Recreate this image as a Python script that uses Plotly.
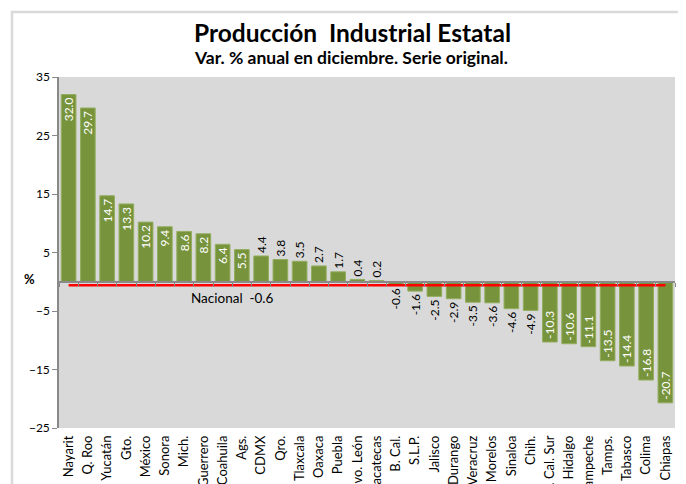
import plotly.graph_objects as go

# ---- data ----
states = ["Nayarit", "Q. Roo", "Yucatán", "Gto.", "México", "Sonora", "Mich.",
          "Guerrero", "Coahuila", "Ags.", "CDMX", "Qro.", "Tlaxcala", "Oaxaca",
          "Puebla", "Nvo. León", "Zacatecas", "B. Cal.", "S.L.P.", "Jalisco",
          "Durango", "Veracruz", "Morelos", "Sinaloa", "Chih.", "B. Cal. Sur",
          "Hidalgo", "Campeche", "Tamps.", "Tabasco", "Colima", "Chiapas"]
values = [32.0, 29.7, 14.7, 13.3, 10.2, 9.4, 8.6, 8.2, 6.4, 5.5, 4.4, 3.8, 3.5,
          2.7, 1.7, 0.4, 0.2, -0.6, -1.6, -2.5, -2.9, -3.5, -3.6, -4.6, -4.9,
          -10.3, -10.6, -11.1, -13.5, -14.4, -16.8, -20.7]
nacional = -0.6
y_ticks = [-25, -15, -5, 5, 15, 25, 35]
y_range = [-25, 35]

FONT = "Lato"
labels = [f"{v:.1f}" for v in values]
positions = ["inside" if abs(v) >= 5 else "outside" for v in values]
label_colors = ["white" if abs(v) >= 5 else "black" for v in values]

# page offset (body margin) compensation
PAGE_OFF = 8
PL, PR, PT, PB = 59, 675, 77, 428          # plot area in page pixels
W, H = 686 - PAGE_OFF, 484 - PAGE_OFF
PW, PH = PR - PL, PB - PT


def px(x):
    return (x - PL) / PW


def py(y):
    return 1 + (PT - y) / PH


fig = go.Figure()
fig.add_trace(go.Bar(
    x=states, y=values, text=labels, textposition=positions, textangle=-90,
    insidetextanchor="end", constraintext="none", cliponaxis=False,
    textfont=dict(family=FONT, size=12, color=label_colors),
    marker=dict(color="#77933C", line=dict(color="#93AE5E", width=1)),
    hoverinfo="skip", showlegend=False))
fig.add_trace(go.Scatter(
    x=states, y=[nacional] * len(states), mode="lines", xaxis="x2",
    line=dict(color="#FF0000", width=2.5), hoverinfo="skip", showlegend=False))

zero_pos = (0 - y_range[0]) / (y_range[1] - y_range[0])

fig.update_layout(
    width=W, height=H,
    margin=dict(l=PL - PAGE_OFF, r=W - (PR - PAGE_OFF), t=PT - PAGE_OFF,
                b=H - (PB - PAGE_OFF), autoexpand=False),
    paper_bgcolor="white", plot_bgcolor="#D9D9D9",
    bargap=0.24,
    font=dict(family=FONT, color="black", size=12),
    xaxis=dict(type="category", range=[-0.5, len(states) - 0.5],
               tickangle=-90, tickfont=dict(size=13, color="black"),
               ticklabelstandoff=4,
               showline=False, ticks="", showgrid=False, automargin=False,
               fixedrange=True),
    xaxis2=dict(type="category", overlaying="x", matches="x", anchor="free",
                position=zero_pos, side="bottom", showline=True,
                linecolor="#898989", linewidth=1.5, ticks="outside", ticklen=4,
                tickcolor="#898989", tickson="boundaries",
                showticklabels=False, showgrid=False),
    yaxis=dict(range=y_range, tickvals=y_ticks, showgrid=False, zeroline=False,
               showline=True, linecolor="#898989", linewidth=1.5,
               ticks="outside", ticklen=5, tickcolor="#898989",
               tickfont=dict(size=12, color="black"), automargin=False),
    annotations=[
        dict(text="<b>Producción  Industrial Estatal</b>", xref="paper", yref="paper",
             x=px(352), y=py(32), showarrow=False,
             xanchor="center", yanchor="middle", font=dict(size=24.5, family=FONT)),
        dict(text="<b>Var. % anual en diciembre. Serie original.</b>", xref="paper",
             yref="paper", x=px(351), y=py(58),
             showarrow=False, xanchor="center", yanchor="middle",
             font=dict(size=17.5, family=FONT)),
        dict(text="<b>%</b>", xref="paper", yref="y", x=px(29), y=0.4,
             showarrow=False, xanchor="center", yanchor="middle",
             font=dict(size=13, family=FONT)),
        dict(text=f"Nacional  {nacional:.1f}", xref="x", yref="y", x=8.5, y=-2.7,
             showarrow=False, xanchor="center", yanchor="middle",
             font=dict(size=13.5, family=FONT)),
    ],
    shapes=[
        dict(type="rect", xref="paper", yref="paper",
             x0=px(12), x1=px(684), y0=-0.3, y1=py(12),
             line=dict(color="#D9D9D9", width=2.5), fillcolor="rgba(0,0,0,0)",
             layer="below"),
    ],
)

fig.write_html("out.html")
